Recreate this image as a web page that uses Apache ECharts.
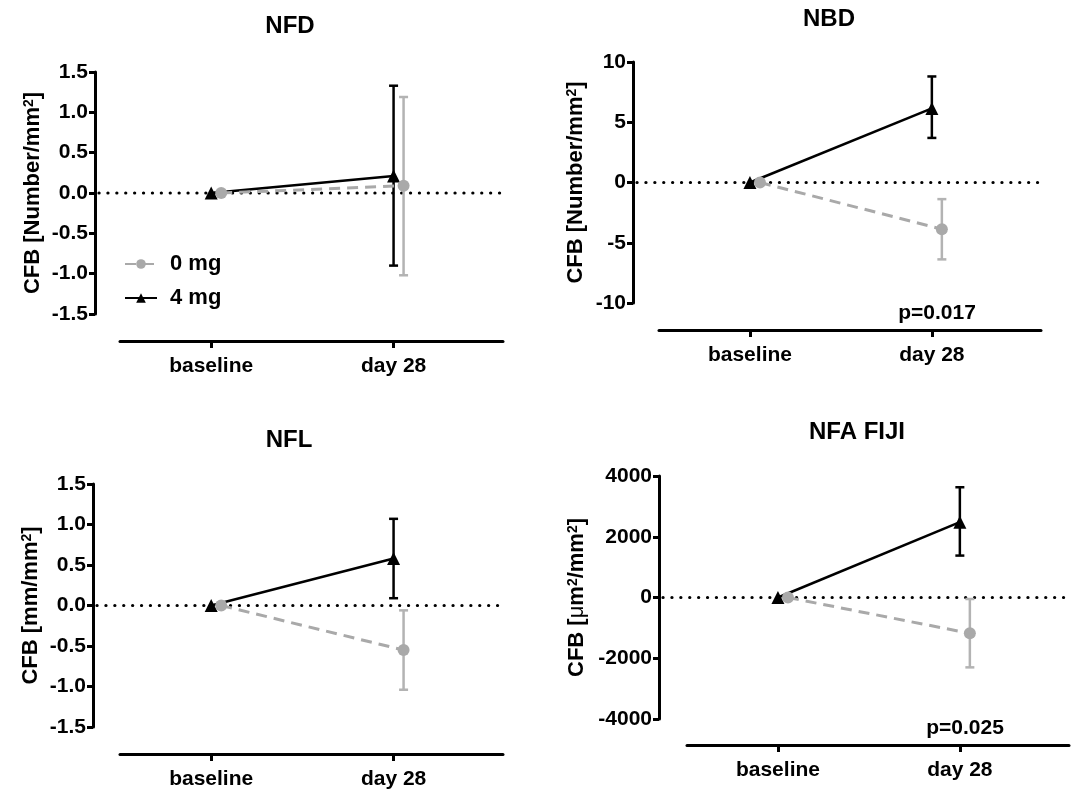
<!DOCTYPE html>
<html><head><meta charset="utf-8">
<script src="https://cdn.jsdelivr.net/npm/echarts@6/dist/echarts.min.js"></script>
<style>html,body{margin:0;padding:0;background:#fff}#c{width:1078px;height:790px}</style>
</head><body><div id="c"></div>
<script>
// ---------- data ----------
const categories = ['baseline', 'day 28'];
const groups = ['0 mg', '4 mg'];
const panelTitles = ['NFD', 'NBD', 'NFL', 'NFA FIJI'];
const yNames = ['CFB [Number/mm{s|2}]', 'CFB [Number/mm{s|2}]', 'CFB [mm/mm{s|2}]', 'CFB [{mu|\u03bc}m{s|2}/mm{s|2}]'];
const yMin = [-1.5, -10, -1.5, -4000];
const yMax = [1.5, 10, 1.5, 4000];
const yStep = [0.5, 5, 0.5, 2000];
const yDecimals = [1, 0, 1, 0];
const pValues = [null, 'p=0.017', null, 'p=0.025'];

// mean change from baseline, lower and upper error limits (baseline has no bar)
const nfd_0mg = [0, 0.09];   const nfd_0mg_lo = [null, -1.02]; const nfd_0mg_hi = [null, 1.19];
const nfd_4mg = [0, 0.21];   const nfd_4mg_lo = [null, -0.90]; const nfd_4mg_hi = [null, 1.33];
const nbd_0mg = [0, -3.87];  const nbd_0mg_lo = [null, -6.38]; const nbd_0mg_hi = [null, -1.38];
const nbd_4mg = [0, 6.15];   const nbd_4mg_lo = [null, 3.70];  const nbd_4mg_hi = [null, 8.80];
const nfl_0mg = [0, -0.55];  const nfl_0mg_lo = [null, -1.04]; const nfl_0mg_hi = [null, -0.06];
const nfl_4mg = [0, 0.58];   const nfl_4mg_lo = [null, 0.09];  const nfl_4mg_hi = [null, 1.07];
const nfa_0mg = [0, -1180];  const nfa_0mg_lo = [null, -2300]; const nfa_0mg_hi = [null, -50];
const nfa_4mg = [0, 2480];   const nfa_4mg_lo = [null, 1380];  const nfa_4mg_hi = [null, 3630];
const referenceLevel = 0;

const panelData = [
  [[nfd_0mg, nfd_0mg_lo, nfd_0mg_hi], [nfd_4mg, nfd_4mg_lo, nfd_4mg_hi]],
  [[nbd_0mg, nbd_0mg_lo, nbd_0mg_hi], [nbd_4mg, nbd_4mg_lo, nbd_4mg_hi]],
  [[nfl_0mg, nfl_0mg_lo, nfl_0mg_hi], [nfl_4mg, nfl_4mg_lo, nfl_4mg_hi]],
  [[nfa_0mg, nfa_0mg_lo, nfa_0mg_hi], [nfa_4mg, nfa_4mg_lo, nfa_4mg_hi]]
];

// ---------- layout / style ----------
const FONT = '"Liberation Sans", Arial, sans-serif';
const layout = [
  {left: 120, top: 72,  width: 383, height: 242, yOff: 25, xOff: 27, nameGap: 51, tx: 290, ty: 26, px: 0, py: 0},
  {left: 659, top: 62,  width: 382, height: 241, yOff: 26, xOff: 27, nameGap: 46, tx: 829, ty: 19, px: 937, py: 313},
  {left: 120, top: 484, width: 383, height: 243, yOff: 27, xOff: 27, nameGap: 51, tx: 289, ty: 440, px: 0, py: 0},
  {left: 687, top: 476, width: 382, height: 243, yOff: 28, xOff: 26, nameGap: 71, tx: 857, ty: 432, px: 965, py: 728}
];
const X_MIN = -0.5, X_MAX = 1.6;
const DODGE_PX = 10;
const colors = ['#a9a9a9', '#000000'];
const errColors = ['#b3b3b3', '#000000'];
const symbols = ['circle', 'triangle'];

function makeErrRender(color) {
  return function (params, api) {
    const x = api.value(0), lo = api.value(1), hi = api.value(2);
    const a = api.coord([x, lo]), b = api.coord([x, hi]);
    const cw = 4.5;
    const style = {stroke: color, lineWidth: 2.5, fill: null};
    return {type: 'group', children: [
      {type: 'line', shape: {x1: a[0], y1: a[1], x2: b[0], y2: b[1]}, style},
      {type: 'line', shape: {x1: b[0] - cw, y1: b[1], x2: b[0] + cw, y2: b[1]}, style},
      {type: 'line', shape: {x1: a[0] - cw, y1: a[1], x2: a[0] + cw, y2: a[1]}, style}
    ]};
  };
}
function makeZeroRender(yOff) {
  return function (params, api) {
    const cs = params.coordSys;
    const y = api.coord([0, api.value(0)])[1];
    return {type: 'line', shape: {x1: cs.x - yOff + 4, y1: y, x2: cs.x + cs.width, y2: y},
      style: {stroke: '#000', lineWidth: 3.2, lineDash: [0.1, 8.8], lineCap: 'round'}};
  };
}

const grids = [], xAxes = [], yAxes = [], series = [], graphics = [];
layout.forEach((L, p) => {
  grids.push({left: L.left, top: L.top, width: L.width, height: L.height, containLabel: false, outerBoundsMode: 'none'});
  xAxes.push({
    type: 'value', gridIndex: p, min: X_MIN, max: X_MAX, offset: L.xOff, position: 'bottom',
    axisLine: {show: true, onZero: false, lineStyle: {color: '#000', width: 3}},
    axisTick: {show: true, length: 7, lineStyle: {color: '#000', width: 3}, customValues: [0, 1]},
    axisLabel: {show: true, customValues: [0, 1], margin: 15, color: '#000', fontFamily: FONT, fontWeight: 'bold', fontSize: 21,
      formatter: v => categories[Math.round(v)]},
    splitLine: {show: false}
  });
  yAxes.push({
    type: 'value', gridIndex: p, min: yMin[p], max: yMax[p], interval: yStep[p], offset: L.yOff, position: 'left',
    axisLine: {show: true, onZero: false, lineStyle: {color: '#000', width: 3}},
    axisTick: {show: true, length: 6, lineStyle: {color: '#000', width: 3}},
    axisLabel: {margin: 7, color: '#000', fontFamily: FONT, fontWeight: 'bold', fontSize: 21,
      formatter: v => v.toFixed(yDecimals[p])},
    splitLine: {show: false},
    name: yNames[p], nameLocation: 'middle', nameGap: L.nameGap, nameRotate: 90, nameMoveOverlap: false,
    nameTextStyle: {color: '#000', fontFamily: FONT, fontWeight: 'bold', fontSize: 22,
      rich: {
        s: {fontFamily: FONT, fontWeight: 'bold', fontSize: 14, verticalAlign: 'top', color: '#000'},
        mu: {fontFamily: FONT, fontWeight: 'normal', fontSize: 22, color: '#000'}
      }}
  });
  const unitPerPx = (X_MAX - X_MIN) / L.width;
  // zero reference line from y-axis to right end of x-axis
  series.push({
    type: 'custom', xAxisIndex: p, yAxisIndex: p, silent: true, z: 1, clip: false,
    renderItem: makeZeroRender(L.yOff), encode: {y: 0},
    data: [[referenceLevel]]
  });
  // draw 4 mg first, then 0 mg
  [1, 0].forEach(g => {
    const [mean, lo, hi] = panelData[p][g];
    const dodge = g === 0 ? DODGE_PX * unitPerPx : 0;
    series.push({
      type: 'custom', xAxisIndex: p, yAxisIndex: p, silent: true, z: 2,
      renderItem: makeErrRender(errColors[g]),
      encode: {x: 0, y: [1, 2]},
      data: categories.map((c, i) => lo[i] == null ? null : [i + dodge, lo[i], hi[i]]).filter(d => d)
    });
    series.push({
      type: 'line', name: groups[g], xAxisIndex: p, yAxisIndex: p, z: 3,
      data: categories.map((c, i) => [i + dodge, mean[i]]),
      symbol: symbols[g], symbolSize: g === 0 ? 12 : 13,
      itemStyle: {color: colors[g]},
      lineStyle: {color: colors[g], width: g === 0 ? 3 : 2.5, type: g === 0 ? [11, 7] : 'solid'}
    });
  });
  graphics.push({type: 'text', x: L.tx, y: L.ty, style: {text: panelTitles[p], font: 'bold 24px ' + FONT, fill: '#000', align: 'center', verticalAlign: 'middle'}});
  if (pValues[p]) graphics.push({type: 'text', x: L.px, y: L.py, style: {text: pValues[p], font: 'bold 21px ' + FONT, fill: '#000', align: 'center', verticalAlign: 'middle'}});
});

const chart = echarts.init(document.getElementById('c'), null, {renderer: 'canvas'});
chart.setOption({
  animation: false,
  backgroundColor: '#fff',
  grid: grids, xAxis: xAxes, yAxis: yAxes, series: series,
  legend: {
    data: groups, orient: 'vertical', left: 119, top: 248, itemWidth: 32, itemHeight: 12, itemGap: 12,
    textStyle: {color: '#000', fontFamily: FONT, fontWeight: 'bold', fontSize: 22, padding: [0, 0, 0, 8]}
  },
  graphic: graphics
});
</script>
</body></html>
